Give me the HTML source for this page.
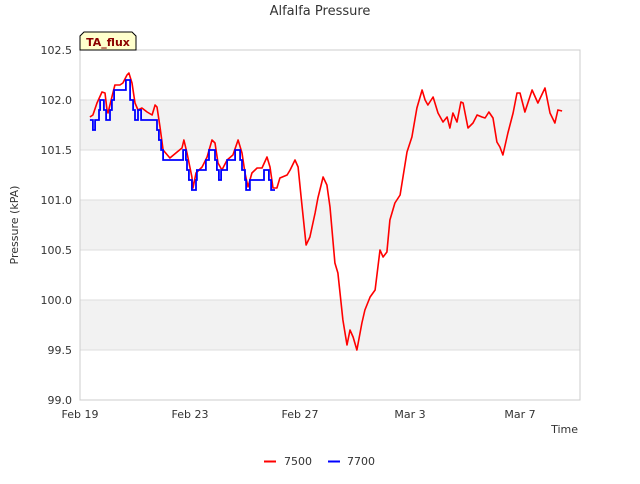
<!DOCTYPE html>
<html><head><meta charset="utf-8"><style>
body{margin:0;background:#fff;font-family:"DejaVu Sans","Liberation Sans",sans-serif;}
svg text{fill:#333;}
</style></head><body>
<svg id="chart" width="640" height="480" xmlns="http://www.w3.org/2000/svg">
<text x="320" y="15" text-anchor="middle" font-size="13">Alfalfa Pressure</text>
<g id="bands"></g>
<g id="grid"></g>
<rect x="80" y="50" width="500" height="350" fill="none" stroke="#ccc"/>
<g id="ticks"></g>
<text transform="translate(18,225) rotate(-90)" text-anchor="middle" font-size="11">Pressure (kPA)</text>
<text x="578" y="433" text-anchor="end" font-size="11">Time</text>
<g id="series"></g>
<g>
<path d="M80,50 L80,36 L84,32 L132,32 L136,36 L136,50 Z" fill="#ffffcc" stroke="#000" stroke-width="1"/>
<text x="108" y="46" text-anchor="middle" font-size="11" font-weight="bold" style="fill:#8b0000">TA_flux</text>
</g>
<g>
<line x1="264" y1="461.5" x2="276" y2="461.5" stroke="#f00" stroke-width="2"/>
<text x="284" y="465" font-size="11">7500</text>
<line x1="328" y1="461.5" x2="340" y2="461.5" stroke="#00f" stroke-width="2"/>
<text x="347" y="465" font-size="11">7700</text>
</g>
</svg>
<script>
const yTicks=[99.0,99.5,100.0,100.5,101.0,101.5,102.0,102.5];
const xTickDays=[0,4,8,12,16];
const xTickLabels=["Feb 19","Feb 23","Feb 27","Mar 3","Mar 7"];
const redDays=[0.36,0.47,0.62,0.80,0.91,0.98,1.02,1.16,1.27,1.45,1.56,1.71,1.78,1.89,2.00,2.11,2.25,2.44,2.62,2.73,2.80,2.91,3.02,3.27,3.53,3.71,3.78,3.89,4.07,4.11,4.22,4.44,4.62,4.80,4.91,5.02,5.16,5.35,5.56,5.75,5.89,6.00,6.11,6.25,6.44,6.62,6.80,6.91,7.02,7.16,7.27,7.53,7.64,7.82,7.93,8.04,8.22,8.36,8.55,8.65,8.84,8.98,9.09,9.27,9.38,9.56,9.71,9.82,9.93,10.07,10.25,10.36,10.55,10.73,10.91,11.02,11.16,11.27,11.45,11.64,11.89,12.07,12.25,12.44,12.55,12.65,12.84,13.02,13.20,13.35,13.45,13.56,13.71,13.85,13.93,14.11,14.29,14.44,14.62,14.73,14.87,15.02,15.16,15.27,15.38,15.56,15.75,15.89,16.00,16.18,16.44,16.65,16.91,17.09,17.27,17.38,17.53];
const redValues=[101.83,101.85,101.97,102.08,102.07,101.90,101.87,102.03,102.15,102.15,102.17,102.25,102.27,102.17,101.97,101.90,101.92,101.88,101.85,101.95,101.93,101.73,101.50,101.42,101.48,101.52,101.60,101.47,101.23,101.12,101.27,101.33,101.43,101.60,101.57,101.37,101.30,101.40,101.45,101.60,101.47,101.27,101.13,101.27,101.32,101.32,101.43,101.33,101.12,101.12,101.22,101.25,101.30,101.40,101.33,101.03,100.55,100.63,100.87,101.02,101.23,101.15,100.93,100.37,100.27,99.80,99.55,99.70,99.63,99.50,99.77,99.90,100.03,100.10,100.50,100.43,100.48,100.80,100.97,101.05,101.48,101.63,101.92,102.10,102.00,101.95,102.03,101.87,101.78,101.83,101.72,101.87,101.78,101.98,101.97,101.72,101.77,101.85,101.83,101.82,101.88,101.82,101.58,101.53,101.45,101.67,101.87,102.07,102.07,101.88,102.10,101.97,102.12,101.87,101.77,101.90,101.89];
const blueDays=[0.36,0.47,0.55,0.69,0.73,0.87,0.95,1.09,1.16,1.24,1.67,1.82,1.93,2.00,2.11,2.22,2.80,2.87,2.95,3.02,3.75,3.85,3.89,3.96,4.07,4.22,4.25,4.58,4.69,4.91,4.98,5.05,5.13,5.35,5.64,5.82,5.89,6.00,6.04,6.18,6.69,6.87,6.95,7.09];
const blueValues=[101.8,101.7,101.8,101.9,102.0,101.9,101.8,101.9,102.0,102.1,102.2,102.0,101.9,101.8,101.9,101.8,101.7,101.6,101.5,101.4,101.5,101.4,101.3,101.2,101.1,101.2,101.3,101.4,101.5,101.4,101.3,101.2,101.3,101.4,101.5,101.4,101.3,101.2,101.1,101.2,101.3,101.2,101.1,101.1];

const NS="http://www.w3.org/2000/svg";
const X0=80,X1=580,Y0=50,Y1=400,DMIN=0,DMAX=500/27.5,VMIN=99,VMAX=102.5;
function xs(d){return X0+(d-DMIN)/(DMAX-DMIN)*(X1-X0);}
function ys(v){return Y1-(v-VMIN)/(VMAX-VMIN)*(Y1-Y0);}
function mk(tag,attrs,parent){const e=document.createElementNS(NS,tag);for(const k in attrs)e.setAttribute(k,attrs[k]);document.getElementById(parent).appendChild(e);return e;}

for(let i=0;i<yTicks.length-1;i++){
  if(i%2===1){
    const r=mk('rect',{x:X0,y:ys(yTicks[i+1]),width:X1-X0,height:ys(yTicks[i])-ys(yTicks[i+1]),fill:'#f2f2f2'},'bands');
    
    
  }
}
yTicks.forEach(v=>{
  const l=mk('line',{x1:X0,x2:X1,y1:ys(v),y2:ys(v),stroke:'#ddd'},'grid');
  
  
  const t=mk('text',{x:X0-8,y:ys(v)+4,'text-anchor':'end','font-size':'11'},'ticks');
  t.textContent=v.toFixed(1);
  
  
});
xTickDays.forEach((d,i)=>{
  const t=mk('text',{x:xs(d),y:Y1+18,'text-anchor':'middle','font-size':'11'},'ticks');
  t.textContent=xTickLabels[i];
  
  
});
let rp=redDays.map((d,i)=>xs(d).toFixed(1)+','+ys(redValues[i]).toFixed(1)).join(' ');
const red=mk('polyline',{points:rp,fill:'none',stroke:'#f00','stroke-width':'1.6','stroke-linejoin':'round'},'series');


let bp=[];
blueDays.forEach((d,i)=>{
  if(i>0)bp.push(xs(d).toFixed(1)+','+ys(blueValues[i-1]).toFixed(1));
  bp.push(xs(d).toFixed(1)+','+ys(blueValues[i]).toFixed(1));
});
const blue=mk('polyline',{points:bp.join(' '),fill:'none',stroke:'#00f','stroke-width':'1.8'},'series');


</script>
</body></html>
